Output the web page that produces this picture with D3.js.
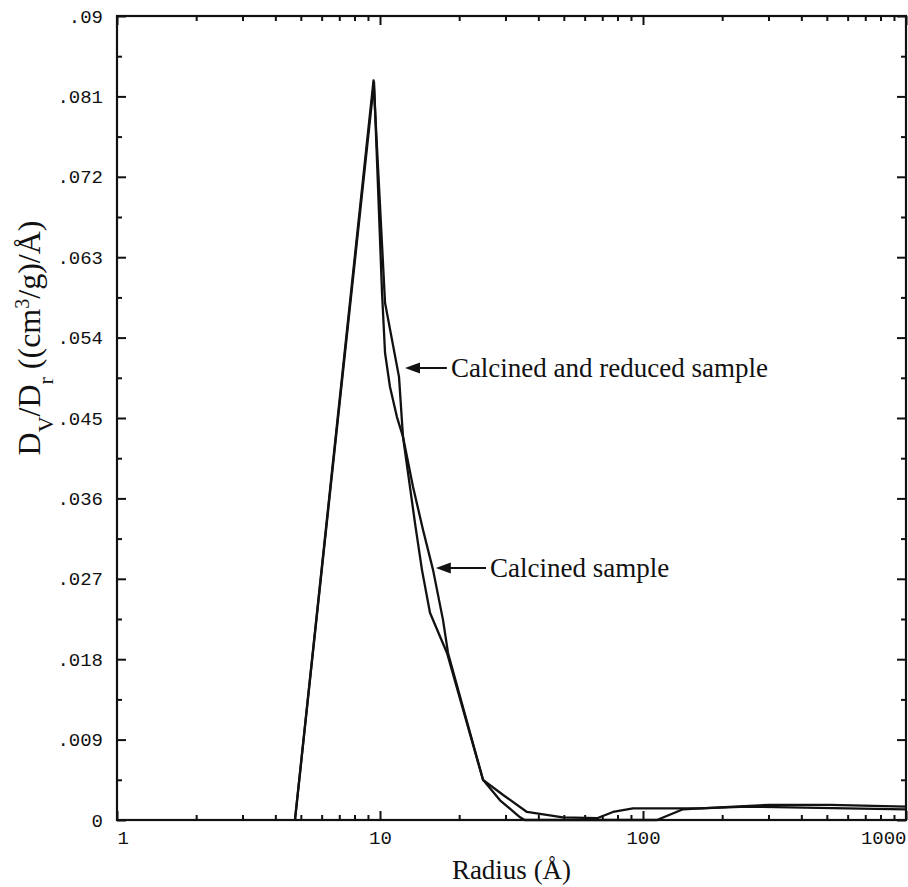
<!DOCTYPE html>
<html>
<head>
<meta charset="utf-8">
<script src="https://cdn.jsdelivr.net/npm/d3@7"></script>
<style>
  body { margin: 0; background: #fff; }
  svg { display: block; }
  .tick text { font-family: "Liberation Mono", "DejaVu Sans Mono", monospace; font-size: 19px; fill: #111; }
  .axis line { stroke: #111; }
</style>
</head>
<body>
<div id="chart"></div>
<script>
// pore radius (Angstrom) vs dV/dr
const calcinedR = [4.75, 9.49, 10.18, 10.45, 10.91, 11.6, 12.23, 13.35, 14.57, 15.91, 17.36, 18.14, 24.64, 28.6, 34.1, 35.5, 113, 142, 165, 249, 597, 1000];
const calcinedV = [0, 0.0826, 0.059, 0.0523, 0.0485, 0.0451, 0.0429, 0.0373, 0.0325, 0.028, 0.0224, 0.0187, 0.0045, 0.0022, 0.0003, 0, 0, 0.0012, 0.0013, 0.0015, 0.0013, 0.0012];

const reducedR = [4.75, 9.45, 10.45, 11.81, 12.23, 13.0, 13.59, 14.44, 15.49, 17.98, 24.64, 29.4, 36.2, 49.6, 66.9, 76.9, 91.6, 165, 304, 514, 1000];
const reducedV = [0, 0.0828, 0.0579, 0.0496, 0.0429, 0.0373, 0.0332, 0.028, 0.0232, 0.0187, 0.0045, 0.0028, 0.0009, 0.0003, 0.0002, 0.0009, 0.0013, 0.0013, 0.0017, 0.0017, 0.0015];

const xTicks = [1, 10, 100, 1000];
const xTickLabels = ["1", "10", "100", "1000"];
const yTicks = [0, 0.009, 0.018, 0.027, 0.036, 0.045, 0.054, 0.063, 0.072, 0.081, 0.09];
const yTickLabels = ["0", ".009", ".018", ".027", ".036", ".045", ".054", ".063", ".072", ".081", ".09"];

// arrow tip (r, v) and where the text starts (r)
const notes = [
    { label: "Calcined and reduced sample", tipR: 12.45, tipV: 0.0506, textR: 18.6 },
    { label: "Calcined sample", tipR: 16.3, tipV: 0.0282, textR: 26.2 }
];

const width = 908;
const height = 887;
const margin = { top: 16, right: 2, bottom: 67, left: 117 };
const innerW = width - margin.left - margin.right;
const innerH = height - margin.top - margin.bottom;
const serif = "'Liberation Serif', 'Times New Roman', serif";

const svg = d3.select("#chart")
    .append("svg")
    .attr("width", width)
    .attr("height", height);

const g = svg.append("g")
    .attr("transform", `translate(${margin.left},${margin.top})`);

const xScale = d3.scaleLog().domain([1, 1000]).range([0, innerW]);
const yScale = d3.scaleLinear().domain([0, 0.09]).range([innerH, 0]);

// minor ticks 2..9 in each decade, and halfway between y ticks
const xMinor = [];
[1, 10, 100].forEach(d => { for (let k = 2; k <= 9; k++) xMinor.push(d * k); });
const yMinor = yTicks.slice(0, -1).map(d => d + 0.0045);

function styleAxis(sel) {
    sel.attr("class", "axis");
    sel.select(".domain").remove();
    sel.selectAll("line").attr("stroke-width", 2);
}

// bottom
g.append("g").attr("transform", `translate(0,${innerH})`)
    .call(d3.axisBottom(xScale).tickValues(xMinor).tickSize(-5).tickFormat(""))
    .call(styleAxis);
const xAxis = g.append("g").attr("transform", `translate(0,${innerH})`)
    .call(d3.axisBottom(xScale).tickValues(xTicks).tickSize(-9).tickPadding(11)
        .tickFormat((d, i) => xTickLabels[i]))
    .call(styleAxis);
xAxis.selectAll("text")
    .attr("text-anchor", (d, i) => i === 0 ? "start" : (i === xTicks.length - 1 ? "end" : "middle"));

// top
g.append("g")
    .call(d3.axisTop(xScale).tickValues(xMinor).tickSize(-5).tickFormat(""))
    .call(styleAxis);
g.append("g")
    .call(d3.axisTop(xScale).tickValues(xTicks).tickSize(-9).tickFormat(""))
    .call(styleAxis);

// left
g.append("g")
    .call(d3.axisLeft(yScale).tickValues(yMinor).tickSize(-5).tickFormat(""))
    .call(styleAxis);
g.append("g")
    .call(d3.axisLeft(yScale).tickValues(yTicks).tickSize(-9).tickPadding(14)
        .tickFormat((d, i) => yTickLabels[i]))
    .call(styleAxis);

// right
g.append("g").attr("transform", `translate(${innerW},0)`)
    .call(d3.axisRight(yScale).tickValues(yMinor).tickSize(-5).tickFormat(""))
    .call(styleAxis);
g.append("g").attr("transform", `translate(${innerW},0)`)
    .call(d3.axisRight(yScale).tickValues(yTicks).tickSize(-9).tickFormat(""))
    .call(styleAxis);

// frame
g.append("rect")
    .attr("width", innerW)
    .attr("height", innerH)
    .attr("fill", "none")
    .attr("stroke", "#111")
    .attr("stroke-width", 2.2);

const line = d3.line()
    .x(d => xScale(d[0]))
    .y(d => yScale(d[1]));

[[calcinedR, calcinedV], [reducedR, reducedV]].forEach(([rs, vs]) => {
    g.append("path")
        .datum(rs.map((r, i) => [r, vs[i]]))
        .attr("d", line)
        .attr("fill", "none")
        .attr("stroke", "#111")
        .attr("stroke-width", 2.3)
        .attr("stroke-linejoin", "round");
});

// annotations
notes.forEach(n => {
    const tx = xScale(n.tipR);
    const ty = yScale(n.tipV);
    const sx = xScale(n.textR);
    g.append("line")
        .attr("x1", tx + 12).attr("y1", ty)
        .attr("x2", sx - 4).attr("y2", ty)
        .attr("stroke", "#111")
        .attr("stroke-width", 2);
    g.append("path")
        .attr("d", `M${tx},${ty} L${tx + 15},${ty - 5.5} L${tx + 15},${ty + 5.5} Z`)
        .attr("fill", "#111");
    g.append("text")
        .attr("x", sx)
        .attr("y", ty)
        .attr("dy", "0.33em")
        .style("font-family", serif)
        .style("font-size", "27px")
        .attr("fill", "#111")
        .text(n.label);
});

// axis titles
g.append("text")
    .attr("x", innerW / 2)
    .attr("y", innerH + 59)
    .attr("text-anchor", "middle")
    .style("font-family", serif)
    .style("font-size", "27px")
    .attr("fill", "#111")
    .text("Radius (Å)");

const yTitle = svg.append("text")
    .attr("transform", `translate(40,338) rotate(-90)`)
    .attr("text-anchor", "middle")
    .style("font-family", serif)
    .style("font-size", "32px")
    .attr("fill", "#111");
yTitle.append("tspan").text("D");
yTitle.append("tspan").attr("baseline-shift", "sub").style("font-size", "22px").text("V");
yTitle.append("tspan").text("/D");
yTitle.append("tspan").attr("baseline-shift", "sub").style("font-size", "22px").text("r");
yTitle.append("tspan").text(" ((cm");
yTitle.append("tspan").attr("baseline-shift", "super").style("font-size", "20px").text("3");
yTitle.append("tspan").text("/g)/Å)");
</script>
</body>
</html>
